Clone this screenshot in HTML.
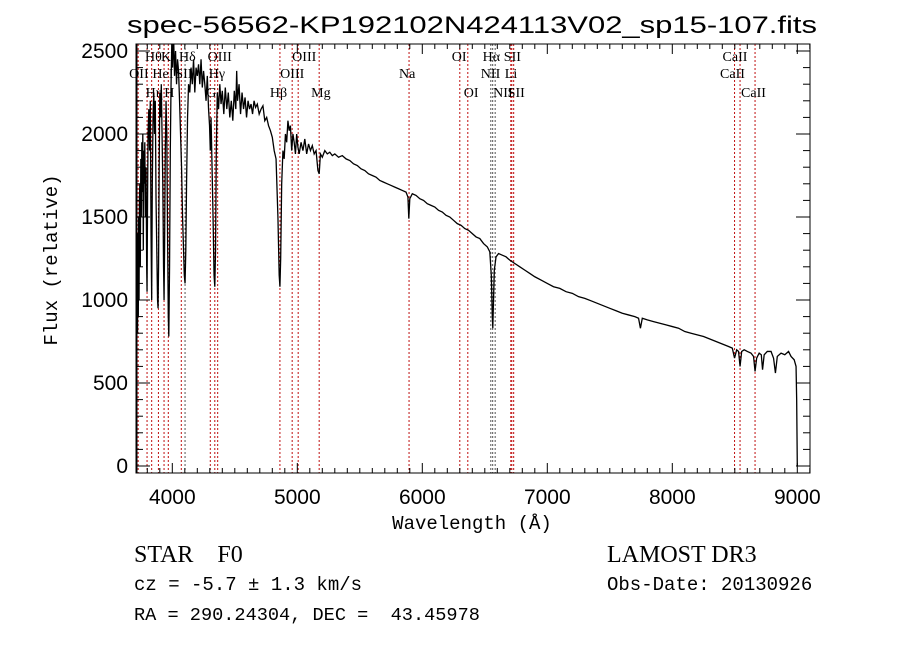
<!DOCTYPE html>
<html><head><meta charset="utf-8">
<style>
html,body{margin:0;padding:0;background:#fff;}
svg{display:block;}
</style></head>
<body>
<svg id="chart" width="900" height="649" viewBox="0 0 900 649" xmlns="http://www.w3.org/2000/svg">
<rect width="900" height="649" fill="#fff"/>
<defs><clipPath id="plotclip"><rect x="136" y="44" width="674" height="429"/></clipPath></defs>
<text x="472" y="33" text-anchor="middle" font-family="Liberation Sans, sans-serif" font-size="24" textLength="690" lengthAdjust="spacingAndGlyphs">spec-56562-KP192102N424113V02_sp15-107.fits</text>
<g id="lines"></g>
<g id="labels" font-family="Liberation Serif, serif" font-size="14"></g>
<g id="spec" clip-path="url(#plotclip)"></g>
<g id="axes"></g>
<text transform="translate(57,260) rotate(-90)" text-anchor="middle" font-family="Liberation Mono, monospace" font-size="19">Flux (relative)</text>
<text x="472" y="529" text-anchor="middle" font-family="Liberation Mono, monospace" font-size="19">Wavelength (Å)</text>
<text x="134" y="562" font-family="Liberation Serif, serif" font-size="24" xml:space="preserve">STAR    F0</text>
<text x="134" y="590" font-family="Liberation Mono, monospace" font-size="19" xml:space="preserve">cz = -5.7 ± 1.3 km/s</text>
<text x="134" y="620" font-family="Liberation Mono, monospace" font-size="18.6" xml:space="preserve">RA = 290.24304, DEC =  43.45978</text>
<text x="607" y="562" font-family="Liberation Serif, serif" font-size="24">LAMOST DR3</text>
<text x="607" y="590" font-family="Liberation Mono, monospace" font-size="19">Obs-Date: 20130926</text>
</svg>
<script>
const wavelengths = [3712,3713,3716,3719,3722,3725,3728,3731,3734,3737,3740,3744,3748,3752,3756,3760,3764,3768,3772,3776,3780,3785,3790,3795,3798,3802,3806,3812,3818,3824,3830,3835,3840,3846,3852,3858,3864,3870,3876,3882,3886,3890,3895,3900,3906,3912,3918,3924,3930,3934,3938,3944,3950,3956,3962,3968,3972,3978,3984,3990,3996,4002,4010,4018,4026,4034,4042,4050,4058,4066,4074,4082,4090,4096,4102,4108,4114,4122,4130,4140,4150,4160,4170,4180,4190,4200,4210,4220,4230,4240,4250,4260,4270,4280,4290,4298,4304,4310,4318,4326,4334,4340,4346,4352,4360,4370,4380,4390,4400,4412,4424,4436,4448,4460,4472,4484,4496,4508,4515,4522,4534,4546,4558,4570,4582,4594,4606,4618,4630,4642,4654,4666,4680,4695,4710,4725,4740,4755,4770,4785,4800,4815,4830,4845,4855,4861,4867,4875,4885,4895,4905,4915,4925,4935,4945,4955,4965,4975,4985,4995,5005,5015,5030,5045,5060,5075,5090,5105,5120,5135,5150,5165,5175,5185,5200,5220,5240,5260,5280,5300,5330,5360,5390,5420,5450,5480,5510,5540,5570,5600,5630,5660,5690,5720,5750,5780,5810,5840,5870,5885,5892,5900,5920,5950,5980,6010,6040,6070,6100,6130,6160,6190,6220,6250,6280,6310,6340,6370,6400,6430,6460,6490,6520,6540,6552,6560,6564,6568,6576,6590,6610,6640,6670,6700,6740,6780,6820,6860,6900,6950,7000,7050,7100,7150,7200,7250,7300,7350,7400,7450,7500,7550,7600,7650,7700,7730,7745,7760,7800,7850,7900,7950,8000,8050,8100,8150,8200,8250,8300,8350,8400,8450,8480,8498,8515,8530,8542,8555,8575,8600,8630,8650,8662,8675,8695,8712,8722,8735,8760,8790,8810,8825,8840,8870,8900,8930,8950,8975,8990,8995,9000];
const fluxValues = [0,1150,700,1300,800,1400,900,1500,1000,1600,1700,1200,1850,1500,1950,1650,2000,1300,1900,1700,1950,1500,1800,1200,1050,1600,2000,2150,1900,2200,1400,1000,1700,2100,2250,2000,2200,1600,1300,1000,950,1200,1800,2250,2100,2300,2000,1700,1200,1000,1300,1900,2200,2000,1400,900,780,1200,1900,2300,2550,2400,2600,2350,2500,2300,2450,2380,2200,2000,1800,1500,1300,1150,1100,1300,1700,2100,2300,2250,2400,2300,2450,2250,2400,2350,2420,2300,2450,2280,2380,2300,2200,2350,2150,2050,1900,2100,1800,1500,1150,1080,1300,1900,2250,2150,2300,2180,2260,2120,2280,2150,2250,2100,2200,2080,2260,2150,2380,2200,2300,2120,2250,2150,2220,2100,2200,2150,2180,2120,2200,2160,2180,2120,2150,2170,2080,2100,2050,2020,1980,1900,1850,1500,1150,1080,1250,1700,1900,1850,2000,1950,2080,2020,2050,1900,2000,1950,1880,2000,1920,1880,1950,1900,1970,1880,1940,1900,1930,1880,1900,1780,1760,1880,1860,1900,1880,1890,1870,1880,1860,1870,1850,1840,1820,1810,1790,1780,1760,1750,1740,1720,1710,1700,1690,1680,1670,1660,1650,1620,1490,1610,1640,1630,1610,1600,1580,1570,1560,1540,1530,1510,1500,1480,1460,1450,1430,1420,1400,1380,1370,1340,1320,1290,1150,900,830,950,1180,1260,1280,1270,1260,1240,1220,1200,1180,1160,1140,1120,1100,1080,1070,1050,1040,1020,1010,995,980,965,950,935,920,910,900,890,830,890,880,870,860,850,840,830,810,800,790,780,765,750,735,720,710,650,700,690,600,690,700,690,680,660,570,650,680,670,580,670,690,690,650,560,660,680,670,690,660,640,600,400,0];
const xTickLabels = ["4000","5000","6000","7000","8000","9000"];
const yTickLabels = ["0","500","1000","1500","2000","2500"];
const lineWaves = [3727,3798,3835,3889,3934,3968,4072,4102,4304,4340,4363,4861,4959,5007,5175,5894,6300,6364,6548,6563,6583,6708,6716,6731,8498,8542,8662];
const lineNames = ["OII","Hθ","Hη","HeI","K","H","SII","Hδ","G","Hγ","OIII","Hβ","OIII","OIII","Mg","Na","OI","OI","NII","Hα","NII","Li","SII","SII","CaII","CaII","CaII"];

const NS = "http://www.w3.org/2000/svg";
const L = 136, R = 810, T = 44, B = 473;
function X(w){ return 172.3 + (w - 4000) * 0.125; }
function Y(f){ return 466 - f * 0.166; }
function mk(tag, attrs, parent){ const e = document.createElementNS(NS, tag); for (const k in attrs) e.setAttribute(k, attrs[k]); parent.appendChild(e); return e; }

const lg = document.getElementById('lines');
const darkLines = {4102:1,6548:1,6563:1,6583:1};
lineWaves.forEach((w) => {
  const ln = mk('line', {x1:X(w), x2:X(w), y1:T, y2:B, stroke: darkLines[w] ? '#555' : '#c01010', 'stroke-width':1, 'stroke-dasharray':'2,2'}, lg);
  
  
});
const labelRows = [1,0,2,1,0,2,1,0,2,1,0,2,1,0,2,1,0,2,1,0,2,1,0,2,0,1,2];
const rowY = [61, 78, 97];
const labelDx = [-9,-2,-6,-6,-3,-4,-6,-6,-4,-6,-10,-10,-12,-6,-8,-10,-8,-4,-10,-10,-2,-6,-8,-6,-12,-20,-14];
const lb = document.getElementById('labels');
lineNames.forEach((n, i) => {
  const t = mk('text', {x: X(lineWaves[i]) + labelDx[i], y: rowY[labelRows[i]]}, lb);
  t.textContent = n;
  
  
});

const sg = document.getElementById('spec');
let d = '';
wavelengths.forEach((w, i) => { d += (i ? 'L' : 'M') + X(w).toFixed(2) + ',' + Y(fluxValues[i]).toFixed(2); });
const sp = mk('path', {d: d, fill:'none', stroke:'#000', 'stroke-width':1.3, 'stroke-linejoin':'miter'}, sg);



const ax = document.getElementById('axes');
const fr = mk('rect', {x:L, y:T, width:R-L, height:B-T, fill:'none', stroke:'#000', 'stroke-width':1}, ax);


mk('line', {x1:L+0.5, x2:L+0.5, y1:T, y2:B, stroke:'#000', 'stroke-width':2}, ax);
for (let w = 3800; w <= 9100; w += 100) {
  const major = w % 1000 === 0, len = major ? 10 : 5, x = X(w);
  mk('line', {x1:x, x2:x, y1:B, y2:B-len, stroke:'#000'}, ax);
  mk('line', {x1:x, x2:x, y1:T, y2:T+len, stroke:'#000'}, ax);
}
for (let f = 0; f <= 2500; f += 100) {
  const major = f % 500 === 0, len = major ? 14 : 7, y = Y(f);
  mk('line', {x1:L, x2:L+len, y1:y, y2:y, stroke:'#000'}, ax);
  mk('line', {x1:R, x2:R-len, y1:y, y2:y, stroke:'#000'}, ax);
}
xTickLabels.forEach((s) => {
  const t = mk('text', {x: X(+s), y: 504, 'text-anchor':'middle', 'font-family':'Liberation Sans, sans-serif', 'font-size':21}, ax);
  t.textContent = s;
  
  
});
yTickLabels.forEach((s) => {
  const t = mk('text', {x: 128, y: Y(+s) + 7, 'text-anchor':'end', 'font-family':'Liberation Sans, sans-serif', 'font-size':21}, ax);
  t.textContent = s;
  
  
});
</script>
</body></html>
